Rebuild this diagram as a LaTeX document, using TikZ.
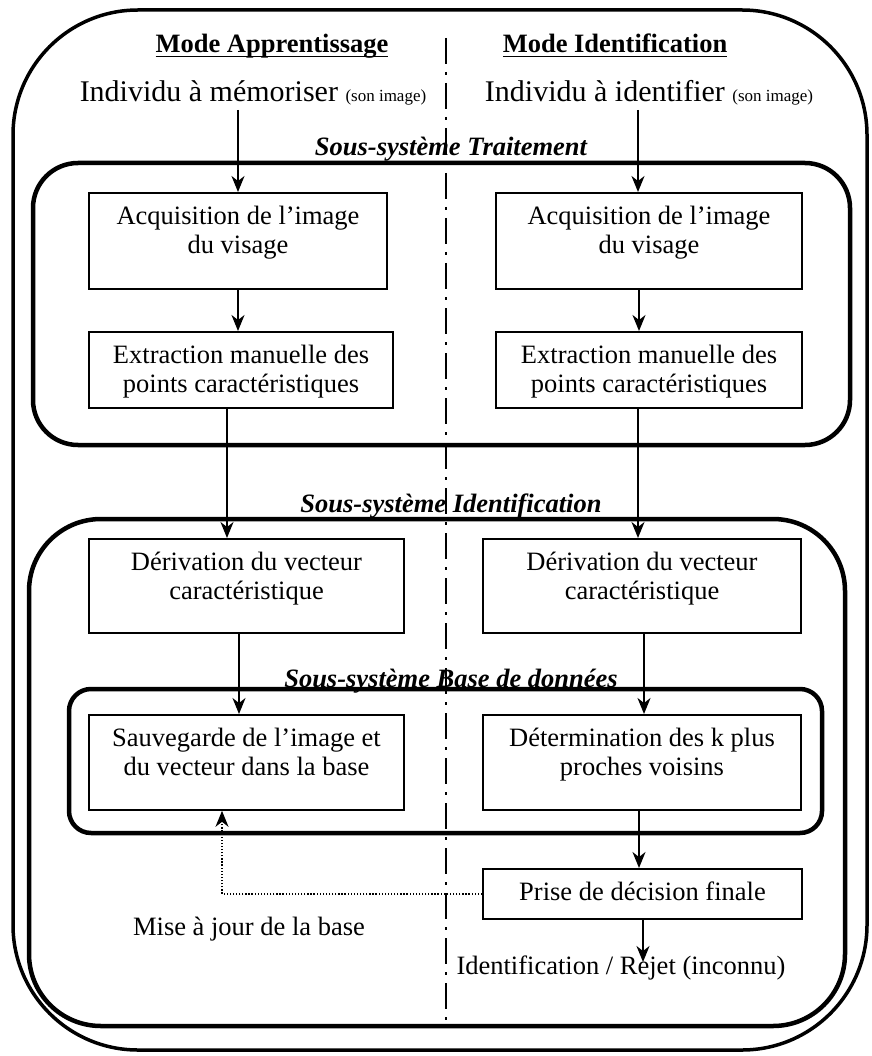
\documentclass[tikz,border=0pt]{standalone}
\usepackage{fontspec}
\setmainfont{Liberation Serif}
\usetikzlibrary{arrows.meta}
\newcommand\txt{\fontsize{26.5}{29}\selectfont}
\newcommand\grand{\fontsize{30}{33}\selectfont}
\newcommand\petit{\fontsize{17}{20}\selectfont}
\newcommand\souligne[1]{\setbox0\hbox{#1}\rlap{\rule[-4.5pt]{\wd0}{1.6pt}}\box0}
\tikzstyle{etape} = [draw, line width=1.8pt, anchor=north, inner sep=0pt]
\tikzstyle{haut} = [anchor=north, align=center, inner xsep=0pt, inner ysep=14pt, font=\txt]
\tikzstyle{texte} = [anchor=base, inner sep=4pt, font=\txt]
\tikzstyle{titre} = [texte, font=\txt\bfseries\itshape]
\tikzstyle{cadre} = [line width=4.5pt]
\tikzstyle{separation} = [line width=1.8pt, dash pattern=on 26pt off 8pt on 3pt off 8pt]
\tikzstyle{fleche} = [line width=1.6pt, -{Stealth[length=16pt,width=13pt,inset=5pt]}]
\tikzstyle{pointille} = [line width=1.3pt, dash pattern=on 1.3pt off 1.8pt,
  -{Stealth[length=16pt,width=13pt,inset=5pt]}]

\begin{document}
\begin{tikzpicture}[x=1pt, y=-1pt]
      \useasboundingbox (0,0) rectangle (871,1056);

      % Frames
      \draw[line width=3.5pt, rounded corners=125pt] (13,10) rectangle (867,1050);
      \draw[cadre, rounded corners=45pt] (33,163) rectangle (850,445);
      \draw[cadre, rounded corners=72pt] (29,519) rectangle (845,1026);
      \draw[cadre, rounded corners=22pt] (69,689) rectangle (822,833);

      % Separation
      \coordinate (sepHaut) at (446,38);
      \coordinate (sepBas) at (446,1026);
      \draw[separation] (sepHaut) -- (sepBas);

      % Titles
      \node[titre] (tTrait) at (451,156) {Sous-système Traitement};
      \node[titre] (tIdent) at (451,512) {Sous-système Identification};
      \node[titre] (tBase) at (451,687) {Sous-système Base de données};

      % Mode apprentissage
      \node[texte] (modeA) at (272,53) {\bfseries\souligne{Mode Apprentissage}};
      \node[texte, font=\grand] (indA) at (253,102) {Individu à mémoriser {\petit(son image)}};
      \node[etape, minimum width=298pt, minimum height=96pt,
        label={[haut]north:Acquisition de l'image\\du visage}] (acqA) at (238,192) {};
      \node[etape, minimum width=304pt, minimum height=76pt,
        label={[haut]north:Extraction manuelle des\\points caractéristiques}] (extA) at (241,331) {};
      \node[etape, minimum width=315pt, minimum height=94pt,
        label={[haut]north:Dérivation du vecteur\\caractéristique}] (derA) at (246.5,538) {};
      \node[etape, minimum width=315pt, minimum height=95pt,
        label={[haut]north:Sauvegarde de l'image et\\du vecteur dans la base}] (sauA) at (246.5,714) {};
      \node[texte] (maj) at (249,935) {Mise à jour de la base};

      % Mode identification
      \node[texte] (modeI) at (615,53) {\bfseries\souligne{Mode Identification}};
      \node[texte, font=\grand] (indI) at (649,102) {Individu à identifier {\petit(son image)}};
      \node[etape, minimum width=306pt, minimum height=96pt,
        label={[haut]north:Acquisition de l'image\\du visage}] (acqI) at (649,192) {};
      \node[etape, minimum width=306pt, minimum height=76pt,
        label={[haut]north:Extraction manuelle des\\points caractéristiques}] (extI) at (649,331) {};
      \node[etape, minimum width=318pt, minimum height=94pt,
        label={[haut]north:Dérivation du vecteur\\caractéristique}] (derI) at (642,538) {};
      \node[etape, minimum width=318pt, minimum height=95pt,
        label={[haut]north:Détermination des k plus\\proches voisins}] (detI) at (642,714) {};
      \node[etape, minimum width=319pt, minimum height=50pt,
        label={[haut]north:Prise de décision finale}] (prise) at (642.5,868) {};
      \node[texte] (resultat) at (621,974) {Identification / Rejet (inconnu)};
      \coordinate (sortie) at (643,962);

      % Arrows
      \draw[fleche] (indA.south -| acqA.north) -- (acqA.north);
      \draw[fleche] (acqA.south) -- (acqA.south |- extA.north);
      \draw[fleche] ([xshift=-14pt]extA.south) -- ([xshift=-14pt]extA.south |- derA.north);
      \draw[fleche] ([xshift=-7.5pt]derA.south) -- ([xshift=-7.5pt]derA.south |- sauA.north);

      \draw[fleche] ([xshift=-11pt]acqI.north |- indI.south) -- ([xshift=-11pt]acqI.north);
      \draw[fleche] ([xshift=-10pt]acqI.south) -- ([xshift=-10pt]acqI.south |- extI.north);
      \draw[fleche] ([xshift=-11pt]extI.south) -- ([xshift=-11pt]extI.south |- derI.north);
      \draw[fleche] ([xshift=2pt]derI.south) -- ([xshift=2pt]derI.south |- detI.north);
      \draw[fleche] ([xshift=-3pt]detI.south) -- ([xshift=-3pt]detI.south |- prise.north);
      \draw[fleche] (prise.south -| sortie) -- (sortie);

      % Update
      \draw[pointille] (prise.west) -| ([xshift=-24.5pt]sauA.south);
    \end{tikzpicture}
\end{document}
